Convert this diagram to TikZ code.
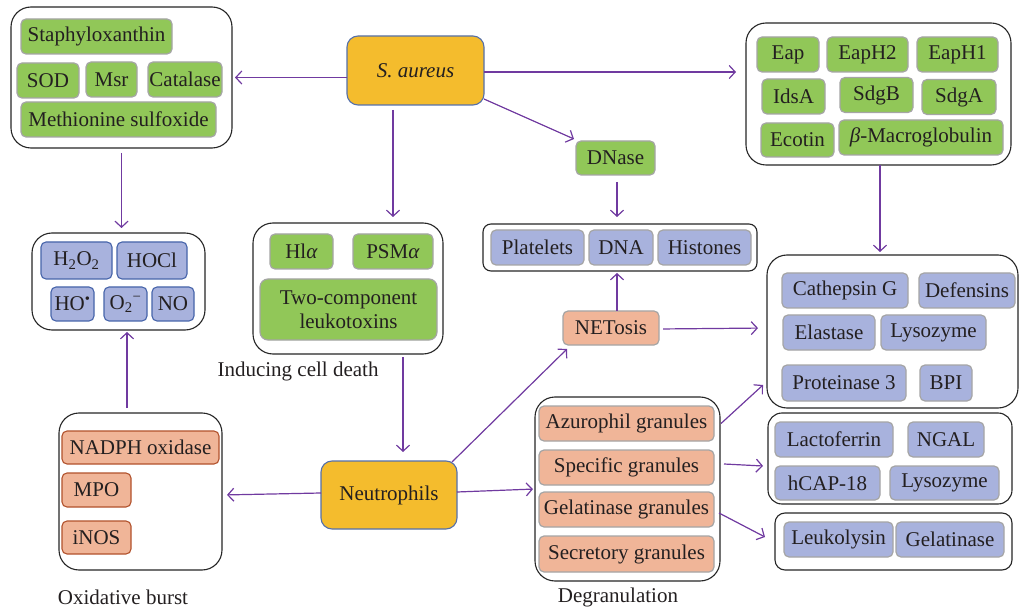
\documentclass[tikz,border=0pt]{standalone}
\usepackage{fontspec}
\setmainfont{Liberation Serif}
\usetikzlibrary{arrows.meta}
\definecolor{gfill}{RGB}{145,199,88}
\definecolor{bfill}{RGB}{168,178,221}
\definecolor{sfill}{RGB}{240,181,152}
\definecolor{ofill}{RGB}{244,188,45}
\definecolor{gborder}{RGB}{165,165,165}
\definecolor{bborder}{RGB}{70,100,170}
\definecolor{rborder}{RGB}{178,82,44}
\definecolor{oborder}{RGB}{85,112,170}
\definecolor{arr}{RGB}{112,58,160}
\definecolor{txt}{RGB}{35,31,32}
\tikzset{
  base/.style={inner sep=0pt, outer sep=0pt, text=txt, font=\fontsize{21}{24}\selectfont},
  outerbox/.style={base, draw=black!85, line width=1.1pt, fill=white, rounded corners=20pt},
  gbox/.style={base, draw=gborder, line width=1.2pt, fill=gfill, rounded corners=5pt},
  bbox/.style={base, draw=gborder, line width=1.2pt, fill=bfill, rounded corners=5pt},
  rosbox/.style={base, draw=bborder, line width=1.1pt, fill=bfill, rounded corners=5pt},
  sbox/.style={base, draw=gborder, line width=1.2pt, fill=sfill, rounded corners=5pt},
  nbox/.style={base, draw=rborder, line width=1.1pt, fill=sfill, rounded corners=5pt},
  obox/.style={base, draw=oborder, line width=1.1pt, fill=ofill, rounded corners=11pt},
  lbl/.style={base},
  conn/.style={draw=arr, line width=1.2pt, -{Straight Barb[length=6pt,width=13pt]}},
}
\newcommand{\bx}[7]{\node[#1, minimum width=#5pt, minimum height=#6pt] (#2) at (#3,#4) {#7};}
\begin{document}
\begin{tikzpicture}[x=1pt,y=-1pt]
\useasboundingbox (0,0) rectangle (1020,612);
% outer boxes
\bx{outerbox}{outerA}{121.5}{77.5}{221}{141}{}
\bx{outerbox}{outerB}{118.5}{281.5}{173}{97}{}
\bx{outerbox}{outerC}{348}{288.5}{190}{131}{}
\node[outerbox, rounded corners=8pt, minimum width=274pt, minimum height=47pt] (netbox) at (620,247.5) {};
\bx{outerbox}{outerD}{878.5}{94}{265}{142}{}
\bx{outerbox}{outerE}{892.5}{331.5}{251}{153}{}
\bx{outerbox}{outerF}{140.5}{491.5}{163}{157}{}
\bx{outerbox}{outerG}{627.5}{489}{185}{184}{}
\node[outerbox, rounded corners=14pt, minimum width=244pt, minimum height=91pt] (outerH) at (890,458.5) {};
\node[outerbox, rounded corners=10pt, minimum width=237pt, minimum height=57pt] (outerI) at (893.5,541.5) {};
% top-left group
\bx{gbox}{staph}{96.5}{36.5}{151}{35}{Staphyloxanthin}
\bx{gbox}{sod}{48}{80.5}{62}{35}{SOD}
\bx{gbox}{msr}{111.5}{79.5}{51}{35}{Msr}
\bx{gbox}{catalase}{185}{79.5}{74}{35}{Catalase}
\bx{gbox}{methionine}{118.5}{119.5}{195}{35}{Methionine sulfoxide}
% ROS group
\bx{rosbox}{hho}{76.5}{260.5}{71}{37}{H\textsubscript{2}O\textsubscript{2}}
\bx{rosbox}{hocl}{152}{260.5}{70}{37}{HOCl}
\bx{rosbox}{ho}{72.5}{304}{43}{34}{HO\textsuperscript{•}}
\bx{rosbox}{otwo}{125.5}{304}{43}{34}{O\textsubscript{2}\textsuperscript{−}}
\bx{rosbox}{no}{173}{304}{42}{34}{NO}
% toxin group
\bx{gbox}{hla}{301.5}{251.5}{63}{35}{Hl\textit{α}}
\bx{gbox}{psm}{393}{251.5}{80}{35}{PSM\textit{α}}
\node[gbox, rounded corners=8pt, minimum width=177pt, minimum height=61pt, align=center] (twocomp) at (348.5,309.5) {Two-component\\leukotoxins};
% centre nodes
\bx{obox}{saureus}{415.5}{70.5}{137}{69}{\textit{S. aureus}}
\bx{gbox}{dnase}{615.5}{158}{79}{34}{DNase}
\bx{bbox}{platelets}{537.5}{247.5}{93}{35}{Platelets}
\bx{bbox}{dna}{621}{247.5}{64}{35}{DNA}
\bx{bbox}{histones}{704.5}{247.5}{93}{35}{Histones}
\bx{sbox}{netosis}{611}{328}{96}{34}{NETosis}
\bx{obox}{neutrophils}{389}{495}{136}{68}{Neutrophils}
% top-right group
\bx{gbox}{eap}{788}{54.5}{62}{35}{Eap}
\bx{gbox}{eaphtwo}{867.5}{54.5}{81}{35}{EapH2}
\bx{gbox}{eaphone}{957.5}{54.5}{81}{35}{EapH1}
\bx{gbox}{idsa}{793.5}{96.5}{63}{35}{IdsA}
\bx{gbox}{sdgb}{876.5}{95}{73}{35}{SdgB}
\bx{gbox}{sdga}{959}{97}{74}{35}{SdgA}
\bx{gbox}{ecotin}{797.5}{140}{73}{34}{Ecotin}
\bx{gbox}{betamac}{921}{137.5}{164}{35}{\textit{β}-Macroglobulin}
% cathepsin group
\bx{bbox}{cathepsin}{845}{290.5}{126}{35}{Cathepsin G}
\bx{bbox}{defensins}{967}{290.5}{96}{35}{Defensins}
\bx{bbox}{elastase}{829}{332.5}{92}{35}{Elastase}
\bx{bbox}{lysozymeA}{933.5}{332.5}{105}{35}{Lysozyme}
\bx{bbox}{proteinase}{844}{383}{124}{36}{Proteinase 3}
\bx{bbox}{bpi}{946}{383}{52}{36}{BPI}
% oxidative burst group
\bx{nbox}{nadph}{140.5}{447.5}{157}{33}{NADPH oxidase}
\bx{nbox}{mpo}{96.5}{490}{69}{34}{MPO}
\bx{nbox}{inos}{96.5}{537.5}{69}{33}{iNOS}
% degranulation group
\bx{sbox}{azur}{626.5}{423.5}{175}{35}{Azurophil granules}
\bx{sbox}{spec}{626.5}{467.5}{175}{35}{Specific granules}
\bx{sbox}{gelg}{626.5}{509.5}{175}{35}{Gelatinase granules}
\bx{sbox}{secr}{626.5}{554}{175}{36}{Secretory granules}
% lactoferrin group
\bx{bbox}{lacto}{834}{439.5}{118}{35}{Lactoferrin}
\bx{bbox}{ngal}{946}{439.5}{76}{35}{NGAL}
\bx{bbox}{hcap}{827.5}{483}{105}{34}{hCAP-18}
\bx{bbox}{lysozymeB}{944.5}{483}{109}{34}{Lysozyme}
% leukolysin group
\bx{bbox}{leuko}{838.5}{539.5}{109}{35}{Leukolysin}
\bx{bbox}{gelatinase}{950}{539.5}{108}{35}{Gelatinase}
% labels
\node[lbl] (lblcell) at (298,371) {Inducing cell death};
\node[lbl] (lbloxi) at (123,597) {Oxidative burst};
\node[lbl] (lbldeg) at (618,597) {Degranulation};
% connectors (yshift is in canvas units: positive = up)
\draw[conn, shorten >=3pt] (saureus.west |- outerA.east) -- (outerA.east);
\draw[conn, shorten >=10pt] ([yshift=-1.5pt]saureus.east) -- ([yshift=-1.5pt]saureus.east -| outerD.west);
\draw[conn, shorten <=5pt, shorten >=6pt] ([xshift=-22.5pt]saureus.south) -- ([xshift=-22.5pt]saureus.south |- outerC.north);
\draw[conn] ([yshift=6pt]saureus.south east) -- ([xshift=-2pt,yshift=2pt]dnase.north west);
\draw[conn, shorten <=7pt, shorten >=7pt] ([xshift=1.5pt]dnase.south) -- ([xshift=1.5pt]dnase.south |- netbox.north);
\draw[conn, shorten <=5pt, shorten >=5pt] (outerA.south) -- (outerA.south |- outerB.north);
\draw[conn, shorten <=5pt, shorten >=2pt] ([xshift=-13.5pt]outerF.north) -- ([xshift=-13.5pt]outerF.north |- outerB.south);
\draw[conn, shorten <=3pt, shorten >=9pt] ([xshift=14pt]neutrophils.north |- outerC.south) -- ([xshift=14pt]neutrophils.north);
\draw[conn, shorten >=5pt] ([yshift=2pt]neutrophils.west) -- ([yshift=0pt]neutrophils.west -| outerF.east);
\draw[conn] ([xshift=-5pt,yshift=-1pt]neutrophils.north east) -- ([xshift=4pt,yshift=-4pt]netosis.south west);
\draw[conn, shorten >=2pt] ([yshift=3pt]neutrophils.east) -- (outerG.west);
\draw[conn, shorten >=2pt] ([xshift=6pt]netosis.north) -- ([xshift=6pt]netosis.north |- netbox.south);
\draw[conn, shorten <=4pt, shorten >=9pt] ([yshift=-1pt]netosis.east) -- ([yshift=0pt]netosis.east -| outerE.west);
\draw[conn, shorten >=3pt] ([xshift=1.5pt]outerD.south) -- ([xshift=1.5pt]outerD.south |- outerE.north);
\draw[conn] ([xshift=7pt]azur.east) -- ([xshift=-4pt,yshift=23pt]outerE.south west);
\draw[conn] ([xshift=10pt,yshift=3.5pt]spec.east) -- ([xshift=-5pt,yshift=1.5pt]spec.east -| outerH.west);
\draw[conn] ([xshift=5pt,yshift=-3.5pt]gelg.east) -- ([xshift=-10pt,yshift=4.5pt]outerI.west);
\end{tikzpicture}
\end{document}
